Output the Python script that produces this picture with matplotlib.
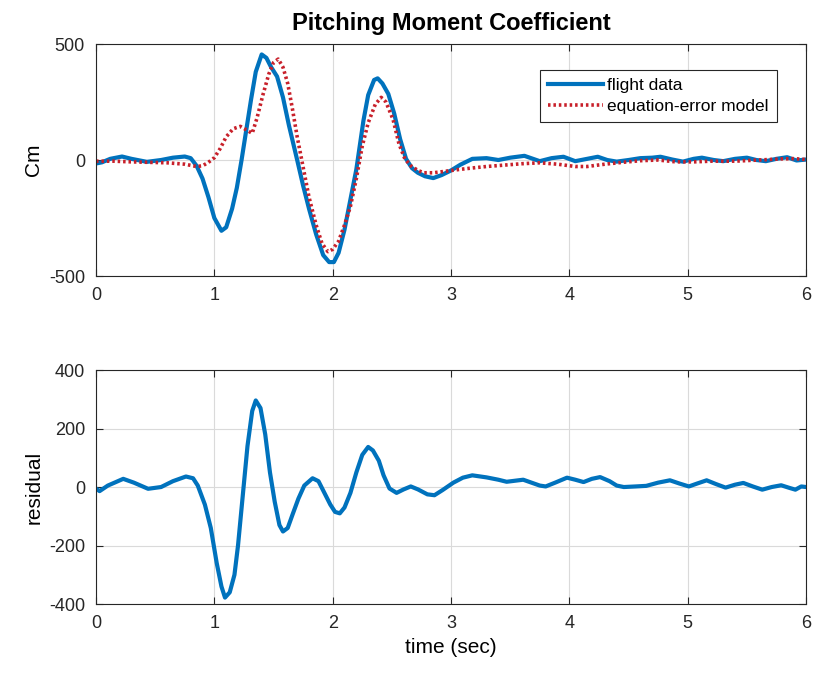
import matplotlib
matplotlib.use("Agg")
import matplotlib.pyplot as plt

plt.rcParams["font.family"] = ["Liberation Sans", "DejaVu Sans"]
plt.rcParams["axes.unicode_minus"] = False

# flight data Cm (time, value)
t_flight = [0.00, 0.05, 0.12, 0.22, 0.30, 0.43, 0.55, 0.65, 0.75, 0.80, 0.85, 0.90, 0.95, 1.00,
            1.06, 1.10, 1.15, 1.19, 1.23, 1.27, 1.31, 1.35, 1.40, 1.44, 1.48, 1.53, 1.58, 1.63,
            1.70, 1.75, 1.80, 1.86, 1.92, 1.97, 2.01, 2.05, 2.10, 2.15, 2.20, 2.26, 2.30, 2.35,
            2.38, 2.42, 2.47, 2.52, 2.57, 2.62, 2.67, 2.72, 2.78, 2.85, 2.92, 3.00, 3.08, 3.18,
            3.30, 3.40, 3.50, 3.62, 3.75, 3.85, 3.95, 4.05, 4.15, 4.24, 4.32, 4.40, 4.50, 4.60,
            4.70, 4.77, 4.87, 4.96, 5.05, 5.12, 5.22, 5.30, 5.40, 5.50, 5.58, 5.66, 5.75, 5.84,
            5.92, 6.00]
cm_flight = [-15, -10, 5, 15, 5, -8, 0, 10, 15, 8, -25, -80, -160, -250,
             -305, -290, -210, -120, 0, 130, 260, 380, 455, 440, 400, 360, 270, 150,
             0, -110, -210, -320, -410, -440, -440, -400, -300, -170, -40, 170, 280, 345,
             352, 330, 285, 200, 90, 5, -35, -55, -70, -78, -65, -45, -20, 5,
             8, 0, 10, 18, -5, 8, 14, -5, 5, 14, 0, -7, 0, 8,
             10, 14, 2, -7, 5, 10, 0, -5, 5, 10, 0, -5, 5, 12,
             -2, 2]

# equation-error model Cm
t_model = [0.00, 0.15, 0.30, 0.45, 0.60, 0.75, 0.85, 0.90, 0.95, 1.00, 1.05, 1.10, 1.16, 1.22,
           1.27, 1.32, 1.36, 1.41, 1.46, 1.50, 1.54, 1.58, 1.62, 1.66, 1.70, 1.75, 1.80, 1.86,
           1.91, 1.96, 2.00, 2.05, 2.10, 2.15, 2.20, 2.25, 2.30, 2.36, 2.41, 2.45, 2.51, 2.56,
           2.61, 2.66, 2.72, 2.77, 2.85, 2.93, 3.05, 3.15, 3.30, 3.45, 3.60, 3.75, 3.90, 4.05,
           4.15, 4.30, 4.45, 4.60, 4.75, 4.90, 5.05, 5.20, 5.40, 5.60, 5.80, 5.90, 6.00]
cm_model = [-5, -5, -8, -10, -12, -18, -28, -25, -10, 10, 50, 100, 135, 145,
            130, 115, 180, 280, 370, 420, 435, 400, 330, 220, 100, -30, -160, -280,
            -360, -395, -385, -350, -280, -200, -80, 60, 160, 240, 270, 250, 175, 70,
            5, -25, -45, -55, -55, -50, -42, -36, -28, -22, -16, -12, -18, -28,
            -28, -18, -10, -3, 0, -8, -8, -5, -5, 0, 5, 6, 2]

# residual
t_resid = [0.00, 0.03, 0.10, 0.23, 0.32, 0.44, 0.55, 0.65, 0.76, 0.82, 0.86, 0.92, 0.97, 1.02,
           1.06, 1.09, 1.13, 1.17, 1.20, 1.24, 1.28, 1.32, 1.35, 1.39, 1.43, 1.47, 1.51, 1.55,
           1.58, 1.62, 1.66, 1.71, 1.76, 1.83, 1.88, 1.93, 1.98, 2.02, 2.06, 2.10, 2.15, 2.20,
           2.25, 2.30, 2.34, 2.39, 2.43, 2.48, 2.54, 2.60, 2.66, 2.72, 2.80, 2.86, 2.93, 3.02,
           3.10, 3.18, 3.30, 3.40, 3.47, 3.55, 3.61, 3.68, 3.75, 3.80, 3.88, 3.98, 4.05, 4.12,
           4.19, 4.26, 4.34, 4.40, 4.46, 4.56, 4.65, 4.75, 4.85, 4.93, 5.01, 5.08, 5.16, 5.24,
           5.32, 5.40, 5.47, 5.55, 5.63, 5.71, 5.79, 5.86, 5.91, 5.96, 6.00]
resid = [-5, -14, 5, 28, 15, -6, 0, 20, 36, 30, 5, -60, -140, -260,
         -340, -378, -360, -300, -200, -30, 140, 260, 296, 270, 180, 50, -50, -130,
         -152, -140, -95, -40, 5, 30, 20, -20, -60, -85, -90, -70, -20, 50,
         110, 137, 125, 90, 40, -5, -20, -8, 2, -8, -25, -28, -10, 15,
         32, 40, 33, 25, 18, 22, 25, 15, 5, 2, 15, 32, 25, 17,
         28, 34, 20, 5, 0, 2, 4, 15, 23, 12, 2, 12, 23, 10,
         -2, 8, 14, 2, -9, 0, 6, -3, -9, 2, 0]

x_ticks = [0, 1, 2, 3, 4, 5, 6]
cm_ticks = [-500, 0, 500]
resid_ticks = [-400, -200, 0, 200, 400]

blue = "#0072BD"
red = "#C8202A"


def style_axes(ax):
    ax.grid(True, color="#dadada", linewidth=0.8)
    ax.set_axisbelow(True)
    ax.tick_params(direction="in", top=True, right=True, length=5, width=0.8,
                   labelsize=13, pad=8, colors="#262626")
    for s in ax.spines.values():
        s.set_linewidth(0.8)
        s.set_color("#262626")


fig = plt.figure(figsize=(8.15, 6.77), dpi=100)
ax1 = fig.add_axes([0.1178, 0.5923, 0.8712, 0.3427])
ax2 = fig.add_axes([0.1178, 0.1078, 0.8712, 0.3456])

ax1.plot(t_flight, cm_flight, color=blue, linewidth=3.0, label="flight data")
ax1.plot(t_model, cm_model, color=red, linewidth=2.6, linestyle=(0, (0.7, 0.8)),
         label="equation-error model")
ax1.set_xlim(0, 6)
ax1.set_ylim(-500, 500)
ax1.set_xticks(x_ticks)
ax1.set_yticks(cm_ticks)
ax1.set_ylabel("Cm", fontsize=15, labelpad=4)
ax1.set_title("Pitching Moment Coefficient", fontsize=17, fontweight="bold", pad=10)
style_axes(ax1)
leg = ax1.legend(loc="upper right", bbox_to_anchor=(0.971, 0.925), fontsize=12.5,
                 fancybox=False, framealpha=1, edgecolor="#262626", handlelength=3.2,
                 handletextpad=0.25, borderpad=0.45, labelspacing=0.35)
leg.get_frame().set_linewidth(0.8)

ax2.plot(t_resid, resid, color=blue, linewidth=3.0)
ax2.set_xlim(0, 6)
ax2.set_ylim(-400, 400)
ax2.set_xticks(x_ticks)
ax2.set_yticks(resid_ticks)
ax2.set_ylabel("residual", fontsize=15, labelpad=4)
ax2.set_xlabel("time (sec)", fontsize=15, labelpad=4)
style_axes(ax2)

plt.savefig("out.png", dpi=100)
